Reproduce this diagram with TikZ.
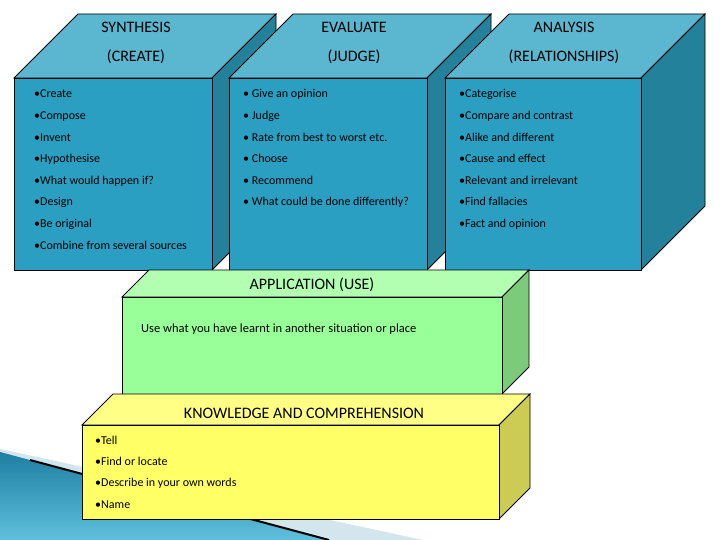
\documentclass[tikz,border=0pt]{standalone}
\usepackage{fontspec}
\setmainfont{Carlito}
\begin{document}
\begin{tikzpicture}[x=1pt,y=-1pt,
  edge/.style={draw=black,line width=0.8pt,line join=miter},
  head/.style={font=\fontsize{16}{16}\selectfont,inner sep=0pt,anchor=base},
  item/.style={font=\fontsize{12}{12}\selectfont,inner sep=0pt,anchor=base west},
  body/.style={font=\fontsize{12.5}{12.5}\selectfont,inner sep=0pt,anchor=base west}]
\definecolor{tfront}{HTML}{2B9FC1}
\definecolor{ttop}{HTML}{5BB7D0}
\definecolor{tside}{HTML}{24819C}
\definecolor{gfront}{HTML}{99FF99}
\definecolor{gtop}{HTML}{B2FFB2}
\definecolor{gside}{HTML}{7BCB7B}
\definecolor{yfront}{HTML}{FFFF66}
\definecolor{ytop}{HTML}{FFFF85}
\definecolor{yside}{HTML}{CCCC55}
\definecolor{lightsw}{HTML}{D3E6EE}
\definecolor{swA}{HTML}{1F7FA3}
\definecolor{swB}{HTML}{5FBFDC}
\useasboundingbox (0,0) rectangle (720,540);
\fill[white] (0,0) rectangle (720,540);
% background swoosh
\fill[lightsw] (0,449) -- (423,540) -- (0,540) -- cycle;
\shade[top color=swA,bottom color=swB] (0,452) -- (329,540) -- (0,540) -- cycle;
\draw[black,line width=2pt] (30,460) -- (329,540);
% box command: x1 y1 x2 y2 depth front top side
\newcommand\boxthreed[8]{%
  \filldraw[edge,fill=#7] (#1,#2) -- ({#1+#5},{#2-#5}) -- ({#3+#5},{#2-#5}) -- (#3,#2) -- cycle;
  \filldraw[edge,fill=#8] (#3,#2) -- ({#3+#5},{#2-#5}) -- ({#3+#5},{#4-#5}) -- (#3,#4) -- cycle;
  \filldraw[edge,fill=#6] (#1,#2) rectangle (#3,#4);}
\boxthreed{14}{78}{212}{270}{64}{tfront}{ttop}{tside}
\boxthreed{229}{78}{427}{270}{64}{tfront}{ttop}{tside}
\boxthreed{445}{78}{641}{270}{64}{tfront}{ttop}{tside}
\boxthreed{122}{297}{502}{394}{27}{gfront}{gtop}{gside}
\boxthreed{82}{425}{499}{519}{31}{yfront}{ytop}{yside}
% headings
\node[head] (h1) at (136,33) {SYNTHESIS};
\node[head] (h1b) at (136,62) {(CREATE)};
\node[head] (h2) at (354,33) {EVALUATE};
\node[head] (h2b) at (354,62) {(JUDGE)};
\node[head] (h3) at (564,33) {ANALYSIS};
\node[head] (h3b) at (564,62) {(RELATIONSHIPS)};
\node[head] (h4) at (312,289) {APPLICATION (USE)};
\node[head] (h5) at (304,418) {KNOWLEDGE AND COMPREHENSION};
% lists
\foreach \t [count=\i] in {Create,Compose,Invent,Hypothesise,What would happen if?,Design,Be original,Combine from several sources}
  \node[item] (s\i) at (34,{98+21.6*(\i-1)}) {•\t};
\foreach \t [count=\i] in {Give an opinion,Judge,Rate from best to worst etc.,Choose,Recommend,What could be done differently?}
  \node[item] (e\i) at (243,{98+21.6*(\i-1)}) {• \t};
\foreach \t [count=\i] in {Categorise,Compare and contrast,Alike and different,Cause and effect,Relevant and irrelevant,Find fallacies,Fact and opinion}
  \node[item] (a\i) at (459,{98+21.6*(\i-1)}) {•\t};
\node[body] (u1) at (141,332) {Use what you have learnt in another situation or place};
\foreach \t [count=\i] in {Tell,Find or locate,Describe in your own words,Name}
  \node[item] (k\i) at (95,{444+21.4*(\i-1)}) {•\t};
\end{tikzpicture}
\end{document}
